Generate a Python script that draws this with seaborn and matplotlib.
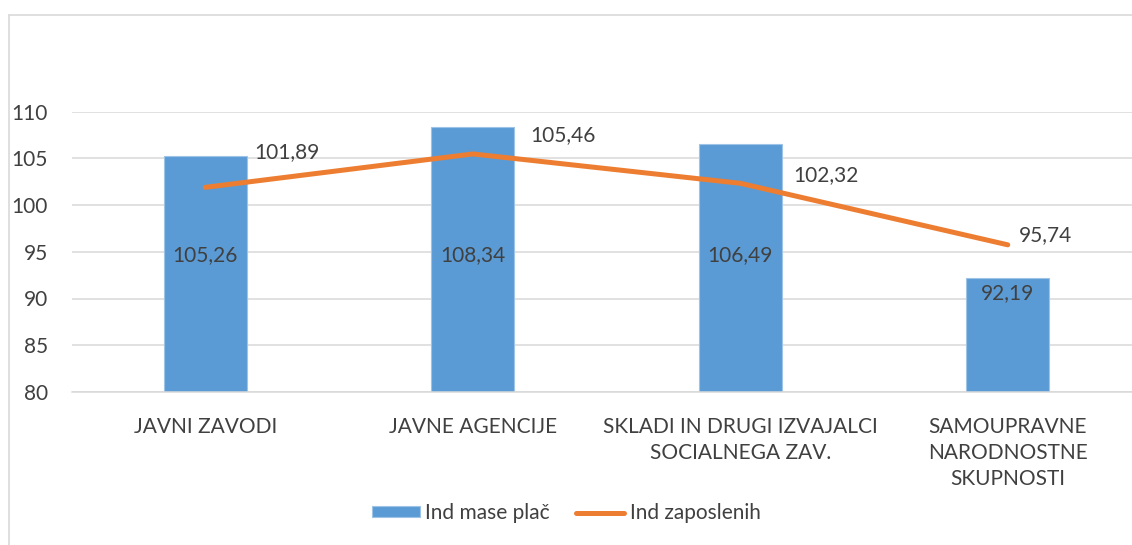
import matplotlib
matplotlib.use("Agg")
import matplotlib.pyplot as plt
from matplotlib.lines import Line2D
import seaborn as sns
import numpy as np
import pandas as pd

categories = ["JAVNI ZAVODI", "JAVNE AGENCIJE", "SKLADI IN DRUGI IZVAJALCI SOCIALNEGA ZAV.",
              "SAMOUPRAVNE NARODNOSTNE SKUPNOSTI"]
tick_labels = ["JAVNI ZAVODI", "JAVNE AGENCIJE", "SKLADI IN DRUGI IZVAJALCI\nSOCIALNEGA ZAV.",
               "SAMOUPRAVNE\nNARODNOSTNE\nSKUPNOSTI"]
ind_mase_plac = [105.26, 108.34, 106.49, 92.19]
ind_zaposlenih = [101.89, 105.46, 102.32, 95.74]
bar_label_y = [94.65, 94.65, 94.65, 90.6]
line_label_offsets_px = [(49, 35), (58, 19), (53, 8), (11, 10)]
series_names = ["Ind mase plač", "Ind zaposlenih"]

BLUE = "#5B9BD5"
ORANGE = "#ED7D31"
GRID = "#D9D9D9"
TXT = "#404040"

sns.set_theme(style="white")
plt.rcParams["font.family"] = ["Lato", "DejaVu Sans"]
FS = 15

fig = plt.figure(figsize=(11.32, 5.45), dpi=100)
ax = fig.add_axes([71.5 / 1132, (545 - 392) / 545, (1141.5 - 71.5) / 1132, 280.5 / 545])

df = pd.DataFrame({"cat": categories, "plac": ind_mase_plac, "zap": ind_zaposlenih})
sns.barplot(data=df, x="cat", y="plac", color=BLUE, saturation=1, width=0.31,
            edgecolor="#9DC3E6", linewidth=0.8, ax=ax, label=series_names[0], zorder=2)
pos = np.arange(len(categories))
sns.lineplot(x=pos, y=df["zap"].values, color=ORANGE, linewidth=3.6, ax=ax,
             label=series_names[1], zorder=3, solid_capstyle="round", sort=False)

ax.set_ylim(80, 110)
ax.set_xlim(-0.5, len(categories) - 0.5)
ax.set_yticks(np.arange(80, 111, 5))
ax.set_yticklabels([str(v) for v in range(80, 111, 5)])
ax.set_xticks(pos)
ax.set_xticklabels(tick_labels, linespacing=1.36)
ax.set_xlabel("")
ax.set_ylabel("")
ax.tick_params(axis="y", length=0, pad=17, labelsize=FS, labelcolor=TXT)
ax.tick_params(axis="x", length=0, pad=18, labelsize=FS, labelcolor=TXT)
ax.grid(axis="y", color=GRID, linewidth=1.1, zorder=0)
ax.set_axisbelow(True)
for s in ["top", "right", "left"]:
    ax.spines[s].set_visible(False)
ax.spines["bottom"].set_color(GRID)
ax.spines["bottom"].set_linewidth(1.1)

for i, (v, ly) in enumerate(zip(ind_mase_plac, bar_label_y)):
    ax.text(i, ly, f"{v:.2f}".replace(".", ","), ha="center", va="center",
            fontsize=FS, color=TXT, zorder=4)
for i, (v, off) in enumerate(zip(ind_zaposlenih, line_label_offsets_px)):
    ax.annotate(f"{v:.2f}".replace(".", ","), (i, v), xytext=off, textcoords="offset pixels",
                ha="left", va="center", fontsize=FS, color=TXT, zorder=4)

handles, labels = ax.get_legend_handles_labels()
hmap = dict(zip(labels, handles))
ordered = [hmap[n] for n in series_names]
ax.legend(ordered, series_names, loc="center", bbox_to_anchor=(0.5, 1 - 513 / 545),
          bbox_transform=fig.transFigure, ncol=2, frameon=False, fontsize=FS,
          handlelength=2.3, handleheight=0.4, handletextpad=0.25, columnspacing=1.3,
          labelcolor=TXT)

# chart border (left and top edges visible in crop)
fig.add_artist(Line2D([8.5 / 1132, 8.5 / 1132], [0, 1 - 15 / 545], transform=fig.transFigure,
                      color=GRID, linewidth=1.2))
fig.add_artist(Line2D([8.5 / 1132, 1], [1 - 15 / 545, 1 - 15 / 545], transform=fig.transFigure,
                      color=GRID, linewidth=1.2))

fig.savefig("out.png", dpi=100)
